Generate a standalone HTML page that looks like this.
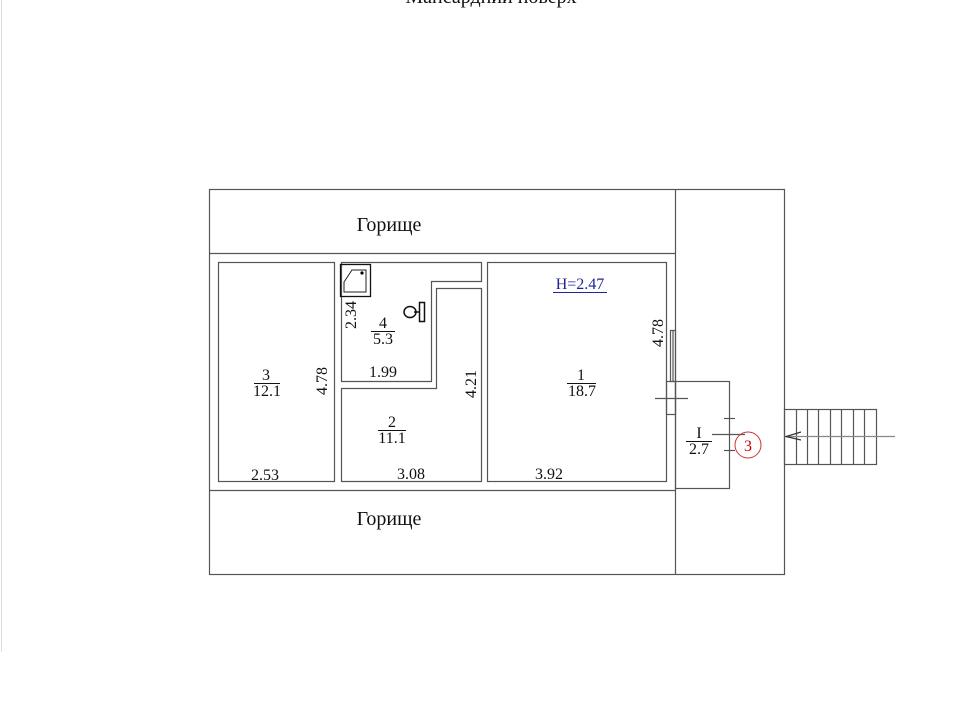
<!DOCTYPE html>
<html><head><meta charset="utf-8"><style>
html,body{margin:0;padding:0;background:#fff;}
svg{display:block;font-family:"Liberation Serif",serif;}
</style></head><body>
<svg width="960" height="720" viewBox="0 0 960 720" xmlns="http://www.w3.org/2000/svg">
<text x="491" y="3" font-size="20" text-anchor="middle" fill="#111">Мансардний поверх</text>
<line x1="1.5" y1="0" x2="1.5" y2="652" stroke="#ddd" stroke-width="1"/>
<g fill="none" stroke="#555" stroke-width="1.2">
<rect x="209.5" y="189.5" width="575" height="385"/>
<line x1="675.5" y1="189" x2="675.5" y2="574"/>
<line x1="209" y1="253.5" x2="675" y2="253.5"/>
<line x1="209" y1="490.5" x2="675" y2="490.5"/>
<rect x="218.5" y="262.5" width="116" height="219"/>
<polygon points="341.5,262.5 481.5,262.5 481.5,281.5 431.5,281.5 431.5,381.5 341.5,381.5"/>
<polygon points="341.5,388.5 436.5,388.5 436.5,288.5 481.5,288.5 481.5,481.5 341.5,481.5"/>
<rect x="487.5" y="262.5" width="179" height="219"/>
<rect x="675.5" y="381.5" width="54" height="107"/>
<rect x="666.5" y="381.5" width="9" height="33"/>
<line x1="655" y1="398.5" x2="688" y2="398.5"/>
<rect x="670.5" y="330.5" width="5" height="51"/>
<line x1="673" y1="330" x2="673" y2="381"/>
<line x1="724" y1="418.5" x2="735" y2="418.5"/>
<line x1="724" y1="450.5" x2="735" y2="450.5"/>
<line x1="712" y1="434.5" x2="745" y2="434.5"/>
<rect x="784.5" y="409.5" width="92" height="55"/>
<line x1="796.5" y1="409" x2="796.5" y2="464"/>
<line x1="807.5" y1="409" x2="807.5" y2="464"/>
<line x1="818.5" y1="409" x2="818.5" y2="464"/>
<line x1="830.5" y1="409" x2="830.5" y2="464"/>
<line x1="841.5" y1="409" x2="841.5" y2="464"/>
<line x1="853.5" y1="409" x2="853.5" y2="464"/>
<line x1="864.5" y1="409" x2="864.5" y2="464"/>
<line x1="784" y1="436.5" x2="895" y2="436.5" stroke="#888"/>
<polyline points="801,432 786,436.5 801,440" stroke="#333"/>
</g>
<circle cx="748" cy="445" r="13" fill="none" stroke="#c33" stroke-width="1"/>
<text x="748" y="451" font-size="16" fill="#c00" text-anchor="middle">3</text>
<rect x="340.5" y="264.5" width="30" height="32" fill="none" stroke="#111" stroke-width="1.3"/>
<path d="M344,292 L344,282 L352,270 L366,270 L366,292 Z" fill="none" stroke="#222" stroke-width="1"/>
<circle cx="362" cy="273" r="1.6" fill="#000"/>
<ellipse cx="410" cy="312" rx="6" ry="5.5" fill="none" stroke="#111" stroke-width="1.5"/>
<line x1="414" y1="312" x2="419" y2="312" stroke="#111" stroke-width="1.5"/>
<rect x="419.5" y="302.5" width="5" height="19" fill="none" stroke="#111" stroke-width="1.5"/>
<g font-size="20" fill="#111" text-anchor="middle">
<text x="389" y="231">Горище</text>
<text x="389" y="525">Горище</text>
</g>
<g font-size="16" fill="#111" text-anchor="middle">
<text x="266" y="380">3</text><line x1="254" y1="383.5" x2="280" y2="383.5" stroke="#111"/><text x="267" y="396">12.1</text>
<text x="265" y="480">2.53</text>
<text x="383" y="328">4</text><line x1="371" y1="331.5" x2="395" y2="331.5" stroke="#111"/><text x="383" y="344">5.3</text>
<text x="383" y="377">1.99</text>
<text x="392" y="427">2</text><line x1="378" y1="430.5" x2="406" y2="430.5" stroke="#111"/><text x="392" y="443">11.1</text>
<text x="411" y="479">3.08</text>
<text x="581" y="380">1</text><line x1="567" y1="383.5" x2="596" y2="383.5" stroke="#111"/><text x="582" y="396">18.7</text>
<text x="549" y="479">3.92</text>
<text x="699" y="438">I</text><line x1="686" y1="441.5" x2="712" y2="441.5" stroke="#111"/><text x="699" y="454">2.7</text>
<text transform="translate(327,381) rotate(-90)">4.78</text>
<text transform="translate(356,315) rotate(-90)">2.34</text>
<text transform="translate(476,384) rotate(-90)">4.21</text>
<text transform="translate(663,333) rotate(-90)">4.78</text>
</g>
<text x="580" y="289" font-size="16" fill="#22229a" text-anchor="middle">H=2.47</text>
<line x1="553" y1="292.5" x2="607" y2="292.5" stroke="#22229a" stroke-width="1"/>
</svg>
</body></html>
